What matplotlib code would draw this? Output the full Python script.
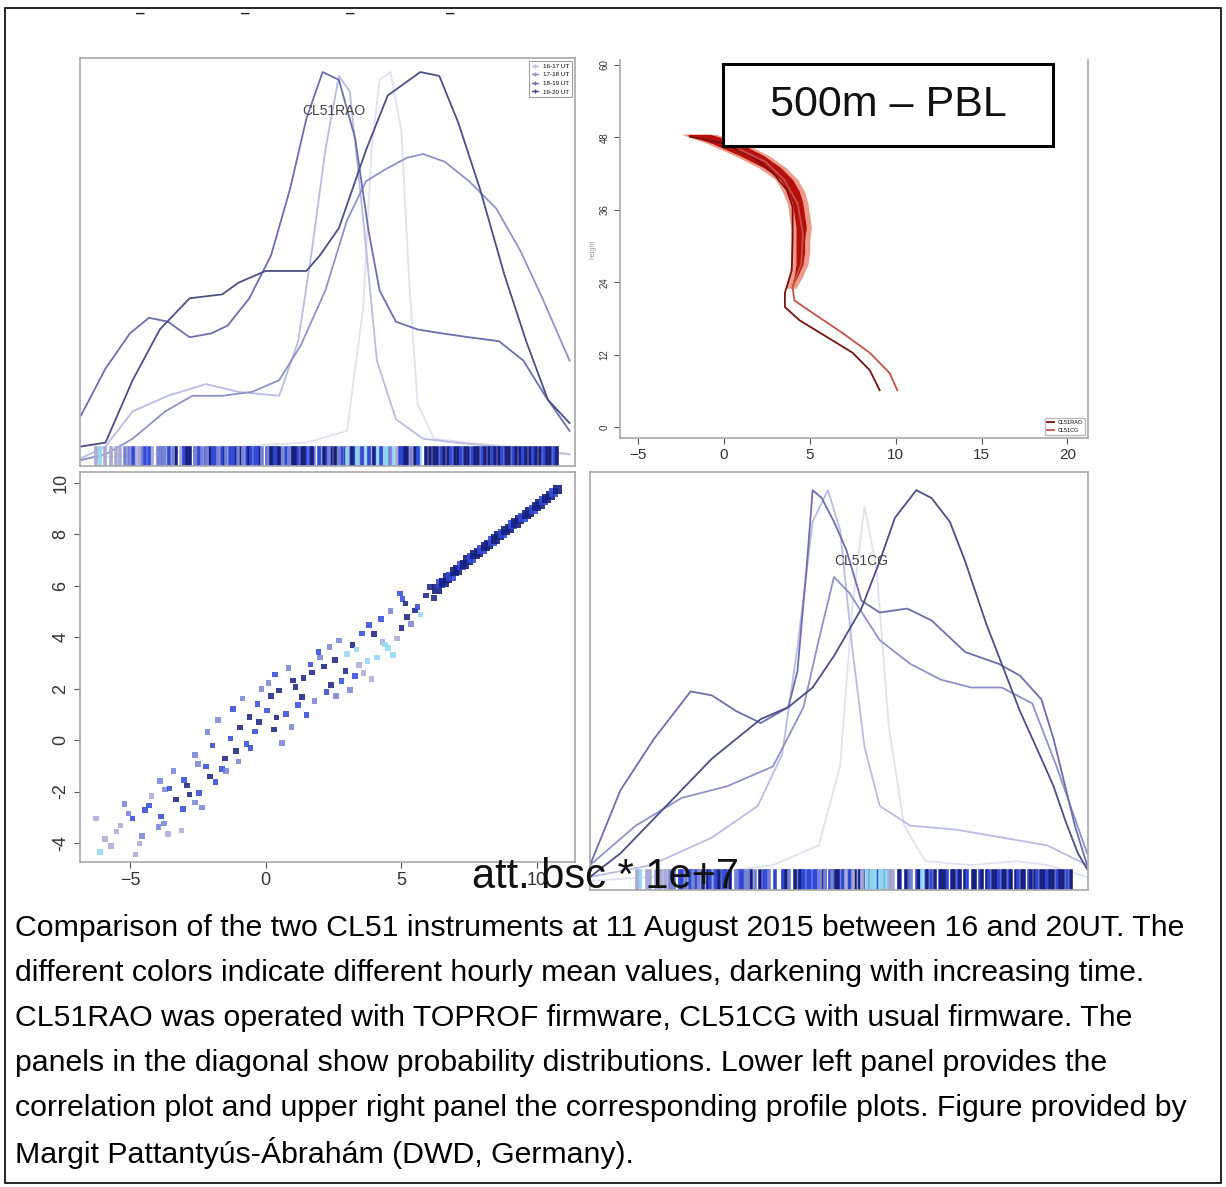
import matplotlib
matplotlib.use("Agg")
import matplotlib.pyplot as plt
from matplotlib.patches import Rectangle

plt.rcParams['font.family'] = ['Liberation Sans', 'DejaVu Sans']

W, H = 1226, 1187

# ---- hourly groups ----
hour_labels = ["16-17 UT", "17-18 UT", "18-19 UT", "19-20 UT"]
point_colors = ["#8fd6f2", "#a9a9d6", "#7683d4", "#3049d6", "#17207f"]
curve_colors = ["#dfe2f0", "#b9bce0", "#8e92c8", "#6c6fae", "#4c4e88"]

# ---- CL51RAO densities (upper left) ----
rao_e_x = [-6.8, -4.0, -1.0, 1.5, 3.0, 3.6, 3.9, 4.2, 4.6, 5.0, 5.3, 5.6, 6.2, 7.5, 9.0, 11.2]
rao_e_d = [0.01, 0.02, 0.04, 0.05, 0.08, 0.40, 0.80, 0.98, 1.0, 0.85, 0.45, 0.15, 0.06, 0.05, 0.04, 0.02]
rao_d_x = [-6.8, -5.9, -4.9, -3.6, -2.2, -1.0, 0.5, 1.2, 1.7, 2.2, 2.7, 3.1, 3.6, 4.1, 4.8, 5.8, 7.0, 8.5, 10.0, 11.2]
rao_d_d = [0.01, 0.04, 0.13, 0.17, 0.20, 0.18, 0.17, 0.31, 0.54, 0.80, 0.99, 0.95, 0.62, 0.26, 0.11, 0.06, 0.05, 0.04, 0.03, 0.02]
rao_c_x = [-6.8, -5.9, -4.9, -3.7, -2.7, -1.6, -0.5, 0.5, 1.3, 2.2, 3.0, 3.7, 4.4, 5.2, 5.8, 6.6, 7.5, 8.5, 9.4, 10.2, 11.2]
rao_c_d = [0.005, 0.02, 0.06, 0.13, 0.17, 0.17, 0.18, 0.21, 0.30, 0.44, 0.62, 0.72, 0.75, 0.78, 0.79, 0.77, 0.72, 0.65, 0.54, 0.42, 0.26]
rao_a_x = [-6.8, -5.9, -5.0, -4.3, -3.6, -2.8, -2.0, -1.4, -0.6, 0.2, 0.9, 1.5, 2.1, 2.7, 3.3, 3.8, 4.2, 4.8, 5.6, 6.5, 7.5, 8.6, 9.5, 10.3, 11.2]
rao_a_d = [0.12, 0.24, 0.33, 0.37, 0.36, 0.32, 0.33, 0.35, 0.42, 0.53, 0.70, 0.88, 1.0, 0.98, 0.83, 0.59, 0.44, 0.36, 0.34, 0.33, 0.32, 0.31, 0.26, 0.17, 0.08]
rao_b_x = [-6.8, -5.9, -4.9, -3.9, -2.8, -1.6, -1.0, 0.0, 1.5, 2.0, 2.7, 3.7, 4.5, 5.7, 6.4, 7.1, 7.9, 8.8, 9.6, 10.4, 11.2]
rao_b_d = [0.04, 0.05, 0.21, 0.34, 0.42, 0.43, 0.46, 0.49, 0.49, 0.53, 0.60, 0.80, 0.94, 1.0, 0.99, 0.87, 0.70, 0.48, 0.31, 0.16, 0.10]

# ---- CL51CG densities (lower right) ----
cg_d_x = [-6.0, -2.0, 0.0, 1.5, 2.2, 2.6, 3.0, 3.4, 3.8, 4.3, 5.0, 6.5, 8.0, 9.0, 10.3]
cg_d_d = [0.01, 0.03, 0.05, 0.10, 0.30, 0.70, 0.96, 0.80, 0.40, 0.15, 0.06, 0.05, 0.06, 0.05, 0.02]
cg_c_x = [-6.0, -4.0, -2.0, -0.5, 0.3, 0.8, 1.3, 1.8, 2.2, 2.6, 3.0, 3.5, 4.5, 6.0, 7.5, 9.0, 10.3]
cg_c_d = [0.02, 0.05, 0.12, 0.20, 0.33, 0.60, 0.92, 1.0, 0.90, 0.60, 0.35, 0.20, 0.15, 0.14, 0.12, 0.10, 0.05]
cg_e_x = [-6.0, -4.5, -3.0, -1.5, 0.0, 1.0, 1.5, 2.0, 2.5, 3.0, 3.5, 4.5, 5.5, 6.5, 7.5, 8.5, 9.3, 10.3]
cg_e_d = [0.05, 0.15, 0.22, 0.25, 0.30, 0.45, 0.62, 0.78, 0.74, 0.68, 0.62, 0.56, 0.52, 0.50, 0.50, 0.46, 0.30, 0.08]
cg_a_x = [-6.0, -5.0, -3.9, -2.7, -2.0, -1.2, -0.4, 0.5, 0.8, 1.1, 1.3, 1.6, 2.0, 2.4, 2.9, 3.5, 4.4, 5.2, 6.3, 7.4, 8.1, 8.8, 9.2, 9.9, 10.3]
cg_a_d = [0.05, 0.24, 0.37, 0.49, 0.48, 0.44, 0.41, 0.45, 0.54, 0.80, 1.0, 0.98, 0.92, 0.85, 0.72, 0.69, 0.70, 0.67, 0.59, 0.56, 0.53, 0.47, 0.37, 0.15, 0.05]
cg_b_x = [-6.0, -5.0, -3.5, -2.0, -1.2, -0.4, 0.5, 1.3, 2.0, 2.9, 3.5, 4.0, 4.7, 5.2, 5.8, 6.3, 7.0, 7.4, 8.1, 8.8, 9.2, 9.6, 10.0, 10.3]
cg_b_d = [0.02, 0.08, 0.20, 0.32, 0.37, 0.42, 0.45, 0.50, 0.58, 0.70, 0.82, 0.93, 1.0, 0.98, 0.92, 0.82, 0.66, 0.58, 0.44, 0.32, 0.25, 0.16, 0.08, 0.04]

# ---- correlation CL51RAO (x) vs CL51CG (y), att. bsc * 1e7 ----
cloud_x = [-6.25, -5.92, -6.10, -5.50, -5.70, -5.05, -5.35, -4.80, -5.20, -4.55,
           -4.90, -4.20, -4.65, -4.45, -3.95, -3.70, -4.30, -3.60, -3.85, -3.90,
           -3.30, -3.75, -3.55, -3.05, -3.40, -2.80, -3.10, -3.00, -2.50, -2.60,
           -2.90, -2.20, -2.45, -2.60, -2.05, -2.35, -1.95, -1.60, -2.15, -1.50,
           -1.85, -1.30, -1.75, -1.10, -1.45, -0.95, -1.20, -0.70, -0.60, -1.00,
           -0.40, -0.85, -0.25, -0.55, 0.05, -0.15, 0.30, -0.30, 0.40, 0.10,
           0.60, 0.20, 0.75, 0.35, 0.95, 0.50, 1.20, 0.85, 1.35, 1.00,
           1.50, 1.10, 1.65, 1.80, 1.40, 2.00, 2.25, 1.70, 2.40, 1.95,
           2.60, 2.15, 2.80, 2.35, 2.95, 3.10, 2.55, 3.30, 2.70, 3.45,
           3.00, 3.60, 3.20, 3.75, 3.90, 3.35, 3.55, 4.10, 4.30, 3.80,
           4.50, 4.00, 4.70, 4.25, 4.85, 4.60, 5.00, 4.40, 5.20, 5.05,
           5.35, 5.50, 4.95, 5.70, 5.15, 5.90, 5.60, 6.05, 6.20]
cloud_y = [-3.05, -3.85, -4.35, -3.55, -4.12, -2.85, -3.32, -4.45, -2.48, -3.72,
           -3.05, -2.18, -4.02, -2.71, -3.38, -1.92, -2.55, -3.66, -2.97, -1.58,
           -2.31, -3.24, -1.88, -2.68, -1.21, -2.12, -3.52, -1.55, -0.92, -2.42,
           -1.77, -1.03, -2.05, -0.58, -1.41, -2.62, -0.21, -1.12, 0.32, -0.71,
           -1.63, 0.07, 0.78, -0.42, -1.19, 0.49, 1.21, -0.15, 0.91, -0.83,
           0.33, 1.62, 0.71, -0.31, 1.15, 1.98, 0.42, 1.41, 0.88, 2.22,
           -0.12, 1.71, 1.02, 2.55, 0.51, 1.93, 1.36, 2.81, 1.68, 2.32,
           0.98, 2.07, 2.95, 1.52, 2.41, 3.21, 1.88, 2.63, 2.14, 3.42,
           1.72, 2.86, 2.31, 3.63, 2.68, 1.95, 3.12, 2.49, 3.88, 2.93,
           3.35, 2.61, 3.71, 3.08, 2.38, 3.52, 4.15, 3.21, 3.81, 4.48,
           3.58, 4.12, 3.31, 4.71, 3.95, 5.02, 4.36, 3.72, 4.78, 5.48,
           4.52, 5.05, 5.71, 4.88, 5.32, 5.62, 5.18, 5.95, 5.52]
cloud_h = [1, 1, 0, 1, 1, 2, 1, 1, 2, 2,
           3, 1, 1, 3, 2, 2, 3, 1, 3, 2,
           4, 2, 3, 3, 2, 4, 1, 3, 2, 2,
           4, 3, 3, 2, 4, 2, 3, 3, 2, 4,
           3, 3, 2, 4, 2, 4, 3, 3, 4, 2,
           3, 2, 4, 3, 3, 2, 4, 3, 4, 2,
           2, 4, 3, 3, 2, 4, 3, 2, 4, 4,
           3, 4, 3, 2, 4, 2, 3, 4, 4, 3,
           2, 4, 3, 2, 4, 2, 4, 3, 2, 1,
           0, 1, 4, 0, 1, 0, 3, 0, 1, 3,
           0, 4, 0, 3, 1, 2, 4, 0, 4, 3,
           2, 4, 3, 0, 4, 4, 3, 4, 4]
# dense upper branch
band_x = [6.32, 6.45, 6.57, 6.71, 6.83, 6.96, 7.08, 7.21, 7.34, 7.46, 7.59, 7.71,
          7.84, 7.97, 8.09, 8.22, 8.35, 8.47, 8.60, 8.72, 8.85, 8.98, 9.10, 9.23,
          9.36, 9.48, 9.61, 9.73, 9.86, 9.98, 10.11, 10.24, 10.36, 10.49, 10.62, 10.75]
band_y = [5.88, 6.08, 6.12, 6.31, 6.36, 6.55, 6.62, 6.78, 6.84, 7.01, 7.08, 7.22,
          7.31, 7.42, 7.53, 7.61, 7.74, 7.82, 7.96, 8.03, 8.16, 8.24, 8.38, 8.45,
          8.58, 8.66, 8.79, 8.88, 8.98, 9.10, 9.19, 9.32, 9.41, 9.52, 9.63, 9.76]
band_h = [4, 3, 4, 4, 3, 4, 4, 3, 4, 4, 3, 4,
          4, 3, 4, 4, 3, 4, 4, 3, 4, 4, 3, 4,
          4, 3, 4, 4, 3, 4, 4, 3, 4, 4, 3, 4]

# ---- profiles (upper right) ----
prof1_x = [-1.98, -0.06, 1.69, 2.85, 3.66, 4.0, 4.0, 3.95, 3.55, 3.55, 4.4, 6.3, 7.5, 8.5, 9.07]
prof1_y = [48.1, 47.0, 44.8, 42.1, 39.3, 36.5, 31.0, 26.0, 22.2, 19.9, 17.7, 14.4, 12.3, 9.4, 6.1]
prof2_x = [0.9, 2.4, 3.5, 4.3, 4.6, 4.5, 4.0, 4.1, 5.17, 6.9, 8.5, 9.65, 10.1]
prof2_y = [46.0, 44.0, 41.0, 37.0, 32.0, 27.0, 23.2, 21.0, 18.9, 15.6, 12.3, 8.95, 6.1]
spread_y = [48.5, 47, 45, 43, 41, 39, 37, 35, 33, 31, 29, 27, 25, 23]
spread_left = [-2.5, -1.0, 0.6, 2.0, 3.0, 3.4, 3.7, 3.8, 3.9, 3.9, 3.9, 3.9, 3.8, 3.6]
spread_right = [-0.5, 1.2, 2.6, 3.6, 4.3, 4.7, 4.9, 5.0, 5.1, 5.0, 5.0, 4.9, 4.6, 4.2]
height_ticks = [0, 12, 24, 36, 48, 60]

caption = [
    "Comparison of the two CL51 instruments at 11 August 2015 between 16 and 20UT. The",
    "different colors indicate different hourly mean values, darkening with increasing time.",
    "CL51RAO was operated with TOPROF firmware, CL51CG with usual firmware. The",
    "panels in the diagonal show probability distributions. Lower left panel provides the",
    "correlation plot and upper right panel the corresponding profile plots. Figure provided by",
    "Margit Pattantyús-Ábrahám (DWD, Germany).",
]


def px_axes(fig, x0, y0, x1, y1):
    return fig.add_axes([x0 / W, 1 - y1 / H, (x1 - x0) / W, (y1 - y0) / H])


def style_box(ax):
    for s in ax.spines.values():
        s.set_color("#a8a8a8")
        s.set_linewidth(1.2)
    ax.tick_params(colors="#555555", labelcolor="#333333", length=4, width=0.8)


all_x = cloud_x + band_x
all_y = cloud_y + band_y
all_h = cloud_h + band_h

fig = plt.figure(figsize=(W / 100, H / 100), dpi=100)

# outer border
fig.patches.append(Rectangle((5 / W, 1 - 1183 / H), 1216 / W, 1175 / H,
                             transform=fig.transFigure, fill=False,
                             edgecolor="black", linewidth=1.2))

# cut-off tick labels at top
for xp in [140, 245, 350, 450]:
    fig.text(xp / W, 1 - 14 / H, "\u2012", fontsize=11, color="#222222",
             ha="center", va="center", fontweight="bold")

# ---- upper left: CL51RAO density ----
ax1 = px_axes(fig, 80, 58, 575, 466)
rao_curves = [(rao_e_x, rao_e_d), (rao_d_x, rao_d_d), (rao_c_x, rao_c_d),
              (rao_a_x, rao_a_d), (rao_b_x, rao_b_d)]
for i, (cx, cd) in enumerate(rao_curves):
    ax1.plot(cx, cd, color=curve_colors[i], lw=1.3)
for xv, h in zip(all_x, all_h):
    ax1.axvline(xv, ymin=0.0, ymax=0.045, color=point_colors[h], lw=2.6)
ax1.set_xlim(-6.84, 11.4)
ax1.set_ylim(-0.01, 1.036)
ax1.set_xticks([])
ax1.set_yticks([])
style_box(ax1)
ax1.text(2.5, 0.9, "CL51RAO", ha="center", va="center", fontsize=10, color="#444444")
handles = [plt.Line2D([], [], color=curve_colors[i + 1], lw=1, marker="+", ms=3)
           for i in range(4)]
leg = ax1.legend(handles, hour_labels, loc="upper right", fontsize=4.5,
                 frameon=True, fancybox=False, handlelength=1.0,
                 borderpad=0.4, labelspacing=0.5)
leg.get_frame().set_edgecolor("#888888")
leg.get_frame().set_linewidth(0.8)

# ---- upper right: profiles ----
ax2 = px_axes(fig, 620, 60, 1088, 438)
ax2.fill_betweenx(spread_y, spread_left, spread_right, color="#e04a2a", alpha=0.55, lw=0)
ax2.fill_betweenx(spread_y, [v + 0.3 for v in spread_left], [v - 0.3 for v in spread_right],
                  color="#b00000", alpha=0.9, lw=0)
ax2.plot(prof1_x, prof1_y, color="#7a1010", lw=1.3, label="CL51RAO")
ax2.plot(prof2_x, prof2_y, color="#c8504a", lw=1.3, label="CL51CG")
ax2.set_xlim(-6.05, 21.2)
ax2.set_ylim(-1.8, 60.8)
ax2.set_xticks([-5, 0, 5, 10, 15, 20])
ax2.set_yticks(height_ticks)
ax2.set_yticklabels([str(v) for v in height_ticks], rotation=90, va="center", fontsize=7)
ax2.tick_params(axis="x", labelsize=11)
style_box(ax2)
ax2.spines["top"].set_visible(False)
ax2.set_ylabel("height", fontsize=5, color="#999999", labelpad=2)
leg2 = ax2.legend(loc="lower right", fontsize=4, frameon=True, fancybox=False,
                  handlelength=1.2, borderpad=0.4)
leg2.get_frame().set_edgecolor("#aaaaaa")

# 500m - PBL box
fig.patches.append(Rectangle((723 / W, 1 - 146 / H), 330 / W, 82 / H,
                             transform=fig.transFigure, facecolor="white",
                             edgecolor="black", linewidth=2.2, zorder=5))
fig.text(888 / W, 1 - 105 / H, "500m \u2013 PBL", fontsize=31, ha="center",
         va="center", color="#111111", zorder=6)

# ---- lower left: scatter ----
ax3 = px_axes(fig, 80, 472, 575, 862)
ax3.scatter(cloud_x, cloud_y, c=[point_colors[h] for h in cloud_h], s=16, marker="s",
            linewidths=0, alpha=0.85)
ax3.scatter(band_x, band_y, c=[point_colors[h] for h in band_h], s=45, marker="s",
            linewidths=0, alpha=0.9)
ax3.set_xlim(-6.84, 11.4)
ax3.set_ylim(-4.74, 10.43)
ax3.set_xticks([-5, 0, 5, 10])
ax3.set_yticks([-4, -2, 0, 2, 4, 6, 8, 10])
ax3.set_yticklabels([str(v) for v in [-4, -2, 0, 2, 4, 6, 8, 10]], rotation=90, va="center")
ax3.tick_params(labelsize=13)
style_box(ax3)

# ---- lower right: CL51CG density ----
ax4 = px_axes(fig, 590, 472, 1088, 890)
cg_curves = [(cg_d_x, cg_d_d), (cg_c_x, cg_c_d), (cg_e_x, cg_e_d),
             (cg_a_x, cg_a_d), (cg_b_x, cg_b_d)]
for i, (cx, cd) in enumerate(cg_curves):
    ax4.plot(cx, cd, color=curve_colors[i], lw=1.3)
for yv, h in zip(all_y, all_h):
    ax4.axvline(yv, ymin=0.0, ymax=0.045, color=point_colors[h], lw=2.6)
ax4.set_xlim(-6.0, 10.33)
ax4.set_ylim(-0.013, 1.046)
ax4.set_xticks([])
ax4.set_yticks([])
style_box(ax4)
ax4.text(2.9, 0.82, "CL51CG", ha="center", va="center", fontsize=10, color="#444444")

fig.text(605 / W, 1 - 877 / H, "att. bsc * 1e+7", fontsize=30, ha="center",
         va="center", color="#111111")

# ---- caption ----
for i, line in enumerate(caption):
    fig.text(15 / W, 1 - (928 + 45 * i) / H, line, fontsize=21.8, ha="left",
             va="center", color="black")

fig.savefig("out.png", dpi=100)
